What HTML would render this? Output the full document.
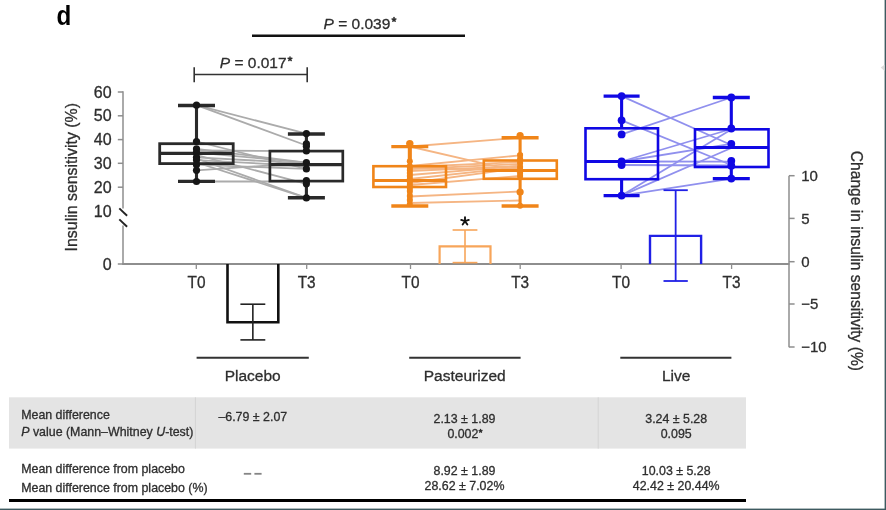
<!DOCTYPE html>
<html><head><meta charset="utf-8"><style>
html,body{margin:0;padding:0;background:#fff;width:886px;height:510px;overflow:hidden}
svg{display:block;filter:blur(0.45px)}
text{font-family:"Liberation Sans", sans-serif}
</style></head><body>
<svg width="886" height="510" viewBox="0 0 886 510">
<rect x="0" y="0" width="886" height="510" fill="#fff"/>
<rect x="884.6" y="0" width="1.4" height="510" fill="#3e5a60" stroke="none" stroke-width="0"/>
<rect x="0" y="508.6" width="886" height="1.4" fill="#3e5a60" stroke="none" stroke-width="0"/>
<polygon points="880.7,67.5 884.5,64.8 884.5,70.9" fill="#dcdcdc"/>
<text transform="translate(56.4,25) scale(0.88,1)" font-size="27.5" font-weight="bold" fill="#000">d</text>
<line x1="252" y1="35.8" x2="465" y2="35.8" stroke="#111" stroke-width="2.6" />
<text transform="translate(323.5,28.6)" font-size="15.5" fill="#2e2e2e" stroke="#2e2e2e" stroke-width="0.3"><tspan font-style="italic">P</tspan> = 0.039</text>
<line x1="394" y1="19.6" x2="394.00" y2="17.60" stroke="#2e2e2e" stroke-width="1.5" stroke-linecap="round"/>
<line x1="394" y1="19.6" x2="395.90" y2="18.98" stroke="#2e2e2e" stroke-width="1.5" stroke-linecap="round"/>
<line x1="394" y1="19.6" x2="395.18" y2="21.22" stroke="#2e2e2e" stroke-width="1.5" stroke-linecap="round"/>
<line x1="394" y1="19.6" x2="392.82" y2="21.22" stroke="#2e2e2e" stroke-width="1.5" stroke-linecap="round"/>
<line x1="394" y1="19.6" x2="392.10" y2="18.98" stroke="#2e2e2e" stroke-width="1.5" stroke-linecap="round"/>
<line x1="194.2" y1="74.5" x2="307.2" y2="74.5" stroke="#333" stroke-width="1.6" />
<line x1="194.2" y1="67.2" x2="194.2" y2="82.2" stroke="#333" stroke-width="1.6" />
<line x1="307.2" y1="67.2" x2="307.2" y2="82.2" stroke="#333" stroke-width="1.6" />
<text transform="translate(219.8,67.9)" font-size="15.5" fill="#2e2e2e" stroke="#2e2e2e" stroke-width="0.3"><tspan font-style="italic">P</tspan> = 0.017</text>
<line x1="290" y1="58.9" x2="290.00" y2="56.90" stroke="#2e2e2e" stroke-width="1.5" stroke-linecap="round"/>
<line x1="290" y1="58.9" x2="291.90" y2="58.28" stroke="#2e2e2e" stroke-width="1.5" stroke-linecap="round"/>
<line x1="290" y1="58.9" x2="291.18" y2="60.52" stroke="#2e2e2e" stroke-width="1.5" stroke-linecap="round"/>
<line x1="290" y1="58.9" x2="288.82" y2="60.52" stroke="#2e2e2e" stroke-width="1.5" stroke-linecap="round"/>
<line x1="290" y1="58.9" x2="288.10" y2="58.28" stroke="#2e2e2e" stroke-width="1.5" stroke-linecap="round"/>
<line x1="123" y1="91.3" x2="123" y2="208.5" stroke="#8e8e8e" stroke-width="1.5" />
<line x1="123" y1="225.5" x2="123" y2="264.8" stroke="#8e8e8e" stroke-width="1.5" />
<line x1="117.8" y1="92" x2="123" y2="92" stroke="#8e8e8e" stroke-width="1.5" />
<text x="111.6" y="97.6" font-size="16" fill="#2e2e2e" stroke="#2e2e2e" stroke-width="0.3" text-anchor="end" >60</text>
<line x1="117.8" y1="115.8" x2="123" y2="115.8" stroke="#8e8e8e" stroke-width="1.5" />
<text x="111.6" y="121.39999999999999" font-size="16" fill="#2e2e2e" stroke="#2e2e2e" stroke-width="0.3" text-anchor="end" >50</text>
<line x1="117.8" y1="139.6" x2="123" y2="139.6" stroke="#8e8e8e" stroke-width="1.5" />
<text x="111.6" y="145.2" font-size="16" fill="#2e2e2e" stroke="#2e2e2e" stroke-width="0.3" text-anchor="end" >40</text>
<line x1="117.8" y1="163.3" x2="123" y2="163.3" stroke="#8e8e8e" stroke-width="1.5" />
<text x="111.6" y="168.9" font-size="16" fill="#2e2e2e" stroke="#2e2e2e" stroke-width="0.3" text-anchor="end" >30</text>
<line x1="117.8" y1="187.2" x2="123" y2="187.2" stroke="#8e8e8e" stroke-width="1.5" />
<text x="111.6" y="192.79999999999998" font-size="16" fill="#2e2e2e" stroke="#2e2e2e" stroke-width="0.3" text-anchor="end" >20</text>
<text x="111.6" y="217.2" font-size="16" fill="#2e2e2e" stroke="#2e2e2e" stroke-width="0.3" text-anchor="end" >10</text>
<text x="111.6" y="269.6" font-size="16" fill="#2e2e2e" stroke="#2e2e2e" stroke-width="0.3" text-anchor="end" >0</text>
<line x1="117.8" y1="264" x2="123" y2="264" stroke="#8e8e8e" stroke-width="1.5" />
<line x1="119.3" y1="208.4" x2="127.1" y2="215.8" stroke="#222" stroke-width="1.9" />
<line x1="119.3" y1="219.4" x2="127.1" y2="226.8" stroke="#222" stroke-width="1.9" />
<text transform="translate(77.4,251.4) rotate(-90)" font-size="15.9" fill="#2e2e2e" stroke="#2e2e2e" stroke-width="0.3">Insulin sensitivity (%)</text>
<line x1="122.3" y1="264" x2="789.5" y2="264" stroke="#8e8e8e" stroke-width="1.8" />
<line x1="196.3" y1="264" x2="196.3" y2="269" stroke="#8e8e8e" stroke-width="1.3" />
<line x1="306.7" y1="264" x2="306.7" y2="269" stroke="#8e8e8e" stroke-width="1.3" />
<line x1="410.5" y1="264" x2="410.5" y2="269" stroke="#8e8e8e" stroke-width="1.3" />
<line x1="520.2" y1="264" x2="520.2" y2="269" stroke="#8e8e8e" stroke-width="1.3" />
<line x1="621.1" y1="264" x2="621.1" y2="269" stroke="#8e8e8e" stroke-width="1.3" />
<line x1="731.6" y1="264" x2="731.6" y2="269" stroke="#8e8e8e" stroke-width="1.3" />
<text transform="translate(196.6,287.5) scale(0.95,1)" font-size="16.2" fill="#2e2e2e" stroke="#2e2e2e" stroke-width="0.3" text-anchor="middle">T0</text>
<text transform="translate(306.7,287.5) scale(0.95,1)" font-size="16.2" fill="#2e2e2e" stroke="#2e2e2e" stroke-width="0.3" text-anchor="middle">T3</text>
<text transform="translate(410.5,287.5) scale(0.95,1)" font-size="16.2" fill="#2e2e2e" stroke="#2e2e2e" stroke-width="0.3" text-anchor="middle">T0</text>
<text transform="translate(520.2,287.5) scale(0.95,1)" font-size="16.2" fill="#2e2e2e" stroke="#2e2e2e" stroke-width="0.3" text-anchor="middle">T3</text>
<text transform="translate(621.1,287.5) scale(0.95,1)" font-size="16.2" fill="#2e2e2e" stroke="#2e2e2e" stroke-width="0.3" text-anchor="middle">T0</text>
<text transform="translate(731.6,287.5) scale(0.95,1)" font-size="16.2" fill="#2e2e2e" stroke="#2e2e2e" stroke-width="0.3" text-anchor="middle">T3</text>
<line x1="789" y1="175.7" x2="789" y2="347.3" stroke="#8e8e8e" stroke-width="1.5" />
<line x1="789" y1="175.7" x2="794.6" y2="175.7" stroke="#8e8e8e" stroke-width="1.5" />
<text x="801.2" y="181.0" font-size="15" fill="#2e2e2e" stroke="#2e2e2e" stroke-width="0.3" text-anchor="start" >10</text>
<line x1="789" y1="218.4" x2="794.6" y2="218.4" stroke="#8e8e8e" stroke-width="1.5" />
<text x="801.2" y="223.70000000000002" font-size="15" fill="#2e2e2e" stroke="#2e2e2e" stroke-width="0.3" text-anchor="start" >5</text>
<line x1="789" y1="261.7" x2="794.6" y2="261.7" stroke="#8e8e8e" stroke-width="1.5" />
<text x="801.2" y="267.0" font-size="15" fill="#2e2e2e" stroke="#2e2e2e" stroke-width="0.3" text-anchor="start" >0</text>
<line x1="789" y1="304" x2="794.6" y2="304" stroke="#8e8e8e" stroke-width="1.5" />
<text x="801.2" y="309.3" font-size="15" fill="#2e2e2e" stroke="#2e2e2e" stroke-width="0.3" text-anchor="start" >−5</text>
<line x1="789" y1="347" x2="794.6" y2="347" stroke="#8e8e8e" stroke-width="1.5" />
<text x="801.2" y="352.3" font-size="15" fill="#2e2e2e" stroke="#2e2e2e" stroke-width="0.3" text-anchor="start" >−10</text>
<text transform="translate(850.6,150.8) rotate(90)" font-size="15.6" fill="#2e2e2e" stroke="#2e2e2e" stroke-width="0.3">Change in insulin sensitivity (%)</text>
<line x1="196.6" y1="357.7" x2="308.8" y2="357.7" stroke="#333" stroke-width="2" />
<text x="252.7" y="380.8" font-size="15.5" fill="#2e2e2e" stroke="#2e2e2e" stroke-width="0.3" text-anchor="middle" >Placebo</text>
<line x1="409.2" y1="357.7" x2="520.6" y2="357.7" stroke="#333" stroke-width="2" />
<text x="464.7" y="380.8" font-size="15.5" fill="#2e2e2e" stroke="#2e2e2e" stroke-width="0.3" text-anchor="middle" >Pasteurized</text>
<line x1="620.3" y1="357.7" x2="731.4" y2="357.7" stroke="#333" stroke-width="2" />
<text x="676.2" y="380.8" font-size="15.5" fill="#2e2e2e" stroke="#2e2e2e" stroke-width="0.3" text-anchor="middle" >Live</text>
<line x1="196.5" y1="105.2" x2="306.4" y2="133.6" stroke="#ababab" stroke-width="1.8" />
<line x1="196.5" y1="105.2" x2="306.4" y2="145.5" stroke="#ababab" stroke-width="1.8" />
<line x1="196.5" y1="150.5" x2="306.4" y2="151.2" stroke="#ababab" stroke-width="1.8" />
<line x1="196.5" y1="148.9" x2="306.4" y2="162.6" stroke="#ababab" stroke-width="1.8" />
<line x1="196.5" y1="152.6" x2="306.4" y2="162.6" stroke="#ababab" stroke-width="1.8" />
<line x1="196.5" y1="157.3" x2="306.4" y2="163.5" stroke="#ababab" stroke-width="1.8" />
<line x1="196.5" y1="160.1" x2="306.4" y2="166" stroke="#ababab" stroke-width="1.8" />
<line x1="196.5" y1="164.7" x2="306.4" y2="168.9" stroke="#ababab" stroke-width="1.8" />
<line x1="196.5" y1="170.3" x2="306.4" y2="163" stroke="#ababab" stroke-width="1.8" />
<line x1="196.5" y1="158.5" x2="306.4" y2="197.9" stroke="#ababab" stroke-width="1.8" />
<line x1="196.5" y1="162.5" x2="306.4" y2="197.9" stroke="#ababab" stroke-width="1.8" />
<line x1="196.5" y1="155" x2="306.4" y2="183.8" stroke="#ababab" stroke-width="1.8" />
<line x1="196.5" y1="181.5" x2="306.4" y2="181.5" stroke="#ababab" stroke-width="1.8" />
<line x1="196.5" y1="141.5" x2="306.4" y2="168.9" stroke="#ababab" stroke-width="1.8" />
<line x1="196.5" y1="105.5" x2="196.5" y2="143.7" stroke="#2a2a2a" stroke-width="3.1" />
<line x1="196.5" y1="163.6" x2="196.5" y2="181.4" stroke="#2a2a2a" stroke-width="3.1" />
<line x1="178.0" y1="105.5" x2="215.0" y2="105.5" stroke="#2a2a2a" stroke-width="3.4" />
<line x1="178.0" y1="181.4" x2="215.0" y2="181.4" stroke="#2a2a2a" stroke-width="3.4" />
<rect x="159.7" y="143.7" width="73.5" height="19.900000000000006" fill="none" stroke="#2a2a2a" stroke-width="2.8"/>
<line x1="159.7" y1="153.4" x2="233.2" y2="153.4" stroke="#2a2a2a" stroke-width="3.1999999999999997" />
<circle cx="196.5" cy="105.2" r="3.6" fill="#161616"/>
<circle cx="196.5" cy="141.5" r="3.6" fill="#161616"/>
<circle cx="196.5" cy="148.9" r="3.6" fill="#161616"/>
<circle cx="196.5" cy="152.6" r="3.6" fill="#161616"/>
<circle cx="196.5" cy="157.3" r="3.6" fill="#161616"/>
<circle cx="196.5" cy="160.1" r="3.6" fill="#161616"/>
<circle cx="196.5" cy="164.7" r="3.6" fill="#161616"/>
<circle cx="196.5" cy="170.3" r="3.6" fill="#161616"/>
<circle cx="196.5" cy="181.5" r="3.6" fill="#161616"/>
<line x1="306.4" y1="134" x2="306.4" y2="151.1" stroke="#2a2a2a" stroke-width="3.1" />
<line x1="306.4" y1="181.1" x2="306.4" y2="197.7" stroke="#2a2a2a" stroke-width="3.1" />
<line x1="287.9" y1="134" x2="324.9" y2="134" stroke="#2a2a2a" stroke-width="3.4" />
<line x1="287.9" y1="197.7" x2="324.9" y2="197.7" stroke="#2a2a2a" stroke-width="3.4" />
<rect x="269.9" y="151.1" width="72.90000000000003" height="30.0" fill="none" stroke="#2a2a2a" stroke-width="2.7"/>
<line x1="269.9" y1="164.6" x2="342.8" y2="164.6" stroke="#2a2a2a" stroke-width="3.1" />
<circle cx="306.4" cy="133.6" r="3.6" fill="#161616"/>
<circle cx="306.4" cy="143.8" r="3.6" fill="#161616"/>
<circle cx="306.4" cy="146.2" r="3.6" fill="#161616"/>
<circle cx="306.4" cy="150.9" r="3.6" fill="#161616"/>
<circle cx="306.4" cy="162.6" r="3.6" fill="#161616"/>
<circle cx="306.4" cy="168.9" r="3.6" fill="#161616"/>
<circle cx="306.4" cy="180.7" r="3.6" fill="#161616"/>
<circle cx="306.4" cy="183.8" r="3.6" fill="#161616"/>
<circle cx="306.4" cy="197.9" r="3.6" fill="#161616"/>
<line x1="409.8" y1="146.5" x2="520.1" y2="137.7" stroke="#f5b583" stroke-width="1.8" />
<line x1="409.8" y1="146.5" x2="520.1" y2="172" stroke="#f5b583" stroke-width="1.8" />
<line x1="409.8" y1="167" x2="520.1" y2="162" stroke="#f5b583" stroke-width="1.8" />
<line x1="409.8" y1="169" x2="520.1" y2="164" stroke="#f5b583" stroke-width="1.8" />
<line x1="409.8" y1="171" x2="520.1" y2="166" stroke="#f5b583" stroke-width="1.8" />
<line x1="409.8" y1="175" x2="520.1" y2="166" stroke="#f5b583" stroke-width="1.8" />
<line x1="409.8" y1="179" x2="520.1" y2="167" stroke="#f5b583" stroke-width="1.8" />
<line x1="409.8" y1="183" x2="520.1" y2="168" stroke="#f5b583" stroke-width="1.8" />
<line x1="409.8" y1="185" x2="520.1" y2="176" stroke="#f5b583" stroke-width="1.8" />
<line x1="409.8" y1="196.5" x2="520.1" y2="191.5" stroke="#f5b583" stroke-width="1.8" />
<line x1="409.8" y1="203" x2="520.1" y2="200.5" stroke="#f5b583" stroke-width="1.8" />
<line x1="409.8" y1="168" x2="520.1" y2="170" stroke="#f5b583" stroke-width="1.8" />
<line x1="409.8" y1="166" x2="520.1" y2="155.4" stroke="#f5b583" stroke-width="1.8" />
<line x1="409.8" y1="146.6" x2="409.8" y2="166.2" stroke="#f08519" stroke-width="3.1" />
<line x1="409.8" y1="187" x2="409.8" y2="206" stroke="#f08519" stroke-width="3.1" />
<line x1="391.3" y1="146.6" x2="428.3" y2="146.6" stroke="#f08519" stroke-width="3.4" />
<line x1="391.3" y1="206" x2="428.3" y2="206" stroke="#f08519" stroke-width="3.4" />
<rect x="373.4" y="166.2" width="72.60000000000002" height="20.80000000000001" fill="none" stroke="#f08519" stroke-width="2.6"/>
<line x1="373.4" y1="180.4" x2="446" y2="180.4" stroke="#f08519" stroke-width="3.0" />
<circle cx="409.8" cy="143.6" r="3.7" fill="#f08519"/>
<circle cx="409.8" cy="161.3" r="3.0" fill="#f08519"/>
<circle cx="409.8" cy="167" r="3.0" fill="#f08519"/>
<circle cx="409.8" cy="170" r="3.0" fill="#f08519"/>
<circle cx="409.8" cy="173" r="3.0" fill="#f08519"/>
<circle cx="409.8" cy="176" r="3.0" fill="#f08519"/>
<circle cx="409.8" cy="179" r="3.0" fill="#f08519"/>
<circle cx="409.8" cy="182" r="3.0" fill="#f08519"/>
<circle cx="409.8" cy="185" r="3.0" fill="#f08519"/>
<circle cx="409.8" cy="188" r="3.0" fill="#f08519"/>
<circle cx="409.8" cy="191" r="3.0" fill="#f08519"/>
<circle cx="409.8" cy="196" r="3.0" fill="#f08519"/>
<circle cx="409.8" cy="200" r="3.0" fill="#f08519"/>
<circle cx="409.8" cy="204" r="3.0" fill="#f08519"/>
<line x1="409.8" y1="146" x2="409.8" y2="164" stroke="#f08519" stroke-width="4.0" />
<line x1="409.8" y1="164" x2="409.8" y2="202" stroke="#f08519" stroke-width="5.2" />
<line x1="520.1" y1="137.7" x2="520.1" y2="160.5" stroke="#f08519" stroke-width="3.1" />
<line x1="520.1" y1="178.8" x2="520.1" y2="206" stroke="#f08519" stroke-width="3.1" />
<line x1="501.6" y1="137.7" x2="538.6" y2="137.7" stroke="#f08519" stroke-width="3.4" />
<line x1="501.6" y1="206" x2="538.6" y2="206" stroke="#f08519" stroke-width="3.4" />
<rect x="483.8" y="160.5" width="72.99999999999994" height="18.30000000000001" fill="none" stroke="#f08519" stroke-width="2.6"/>
<line x1="483.8" y1="170.5" x2="556.8" y2="170.5" stroke="#f08519" stroke-width="3.0" />
<circle cx="520.1" cy="135.6" r="3.6" fill="#f08519"/>
<circle cx="520.1" cy="192" r="3.6" fill="#f08519"/>
<circle cx="520.1" cy="155" r="3.0" fill="#f08519"/>
<circle cx="520.1" cy="159" r="3.0" fill="#f08519"/>
<circle cx="520.1" cy="163" r="3.0" fill="#f08519"/>
<circle cx="520.1" cy="167" r="3.0" fill="#f08519"/>
<circle cx="520.1" cy="170" r="3.0" fill="#f08519"/>
<circle cx="520.1" cy="173" r="3.0" fill="#f08519"/>
<circle cx="520.1" cy="176" r="3.0" fill="#f08519"/>
<circle cx="520.1" cy="192" r="3.0" fill="#f08519"/>
<circle cx="520.1" cy="205.7" r="3.0" fill="#f08519"/>
<line x1="520.1" y1="153" x2="520.1" y2="178" stroke="#f08519" stroke-width="5.0" />
<line x1="621.6" y1="96.1" x2="731.3" y2="145" stroke="#9090ee" stroke-width="1.8" />
<line x1="621.6" y1="120.3" x2="731.3" y2="165" stroke="#9090ee" stroke-width="1.8" />
<line x1="621.6" y1="134.4" x2="731.3" y2="97.5" stroke="#9090ee" stroke-width="1.8" />
<line x1="621.6" y1="161.5" x2="731.3" y2="129" stroke="#9090ee" stroke-width="1.8" />
<line x1="621.6" y1="161.5" x2="731.3" y2="143.8" stroke="#9090ee" stroke-width="1.8" />
<line x1="621.6" y1="161.5" x2="731.3" y2="161.6" stroke="#9090ee" stroke-width="1.8" />
<line x1="621.6" y1="165" x2="731.3" y2="165.5" stroke="#9090ee" stroke-width="1.8" />
<line x1="621.6" y1="195.6" x2="731.3" y2="129.5" stroke="#9090ee" stroke-width="1.8" />
<line x1="621.6" y1="195.6" x2="731.3" y2="148" stroke="#9090ee" stroke-width="1.8" />
<line x1="621.6" y1="195.6" x2="731.3" y2="178.6" stroke="#9090ee" stroke-width="1.8" />
<line x1="621.6" y1="96.1" x2="621.6" y2="128.3" stroke="#1008e4" stroke-width="3.1" />
<line x1="621.6" y1="179.2" x2="621.6" y2="195.6" stroke="#1008e4" stroke-width="3.1" />
<line x1="603.6" y1="96.1" x2="639.6" y2="96.1" stroke="#1008e4" stroke-width="3.4" />
<line x1="603.6" y1="195.6" x2="639.6" y2="195.6" stroke="#1008e4" stroke-width="3.4" />
<rect x="585.5" y="128.3" width="72.5" height="50.89999999999998" fill="none" stroke="#1008e4" stroke-width="2.6"/>
<line x1="585.5" y1="161.5" x2="658" y2="161.5" stroke="#1008e4" stroke-width="3.0" />
<circle cx="621.6" cy="96.1" r="3.9" fill="#1008e4"/>
<circle cx="621.6" cy="120.3" r="3.9" fill="#1008e4"/>
<circle cx="621.6" cy="134.4" r="3.9" fill="#1008e4"/>
<circle cx="621.6" cy="161.5" r="3.9" fill="#1008e4"/>
<circle cx="621.6" cy="165" r="3.9" fill="#1008e4"/>
<circle cx="621.6" cy="195.6" r="3.9" fill="#1008e4"/>
<line x1="731.3" y1="97.5" x2="731.3" y2="129.3" stroke="#1008e4" stroke-width="3.1" />
<line x1="731.3" y1="167" x2="731.3" y2="178.6" stroke="#1008e4" stroke-width="3.1" />
<line x1="712.8" y1="97.5" x2="749.8" y2="97.5" stroke="#1008e4" stroke-width="3.4" />
<line x1="712.8" y1="178.6" x2="749.8" y2="178.6" stroke="#1008e4" stroke-width="3.4" />
<rect x="695" y="129.3" width="73.5" height="37.69999999999999" fill="none" stroke="#1008e4" stroke-width="2.6"/>
<line x1="695" y1="147.4" x2="768.5" y2="147.4" stroke="#1008e4" stroke-width="3.0" />
<circle cx="731.3" cy="97.5" r="3.9" fill="#1008e4"/>
<circle cx="731.3" cy="128.5" r="3.9" fill="#1008e4"/>
<circle cx="731.3" cy="143.8" r="3.9" fill="#1008e4"/>
<circle cx="731.3" cy="160.8" r="3.9" fill="#1008e4"/>
<circle cx="731.3" cy="165.7" r="3.9" fill="#1008e4"/>
<circle cx="731.3" cy="178.6" r="3.9" fill="#1008e4"/>
<polyline points="227.5,264 227.5,322.2 278.3,322.2 278.3,264" fill="none" stroke="#111" stroke-width="2.6"/>
<line x1="252.85000000000002" y1="304.2" x2="252.85000000000002" y2="339.9" stroke="#222" stroke-width="1.6" />
<line x1="240.4" y1="304.2" x2="265.3" y2="304.2" stroke="#222" stroke-width="1.6" />
<line x1="240.4" y1="339.9" x2="265.3" y2="339.9" stroke="#222" stroke-width="1.6" />
<polyline points="439.6,264 439.6,246.3 490.5,246.3 490.5,264" fill="none" stroke="#f7a55a" stroke-width="2.2"/>
<line x1="465.0" y1="230" x2="465.0" y2="262.6" stroke="#f7a55a" stroke-width="1.6" />
<line x1="452.6" y1="230" x2="477.4" y2="230" stroke="#f7a55a" stroke-width="1.6" />
<line x1="452.6" y1="262.6" x2="477.4" y2="262.6" stroke="#f7a55a" stroke-width="1.6" />
<polyline points="650,264 650,235.9 701.1,235.9 701.1,264" fill="none" stroke="#2020e6" stroke-width="2.4"/>
<line x1="675.65" y1="190.2" x2="675.65" y2="281" stroke="#2020e6" stroke-width="1.8" />
<line x1="663.5" y1="190.2" x2="687.8" y2="190.2" stroke="#2020e6" stroke-width="1.8" />
<line x1="663.5" y1="281" x2="687.8" y2="281" stroke="#2020e6" stroke-width="1.8" />
<line x1="465" y1="221.2" x2="465.00" y2="217.20" stroke="#111" stroke-width="1.9" stroke-linecap="round"/>
<line x1="465" y1="221.2" x2="468.80" y2="219.96" stroke="#111" stroke-width="1.9" stroke-linecap="round"/>
<line x1="465" y1="221.2" x2="467.35" y2="224.44" stroke="#111" stroke-width="1.9" stroke-linecap="round"/>
<line x1="465" y1="221.2" x2="462.65" y2="224.44" stroke="#111" stroke-width="1.9" stroke-linecap="round"/>
<line x1="465" y1="221.2" x2="461.20" y2="219.96" stroke="#111" stroke-width="1.9" stroke-linecap="round"/>
<rect x="9" y="397.3" width="737" height="51.3" fill="#e4e4e4" stroke="none" stroke-width="0"/>
<line x1="195.4" y1="397.3" x2="195.4" y2="448.6" stroke="#d4d4d4" stroke-width="1" />
<line x1="598.2" y1="397.3" x2="598.2" y2="448.6" stroke="#d4d4d4" stroke-width="1" />
<text x="21.2" y="418.8" font-size="12.4" fill="#2e2e2e" stroke="#2e2e2e" stroke-width="0.3" text-anchor="start" >Mean difference</text>
<text x="21.2" y="435.6" font-size="12.4" fill="#2e2e2e" stroke="#2e2e2e" stroke-width="0.3" text-anchor="start" ><tspan font-style="italic">P</tspan> value (Mann–Whitney <tspan font-style="italic">U</tspan>-test)</text>
<text x="21.2" y="473.2" font-size="12.4" fill="#2e2e2e" stroke="#2e2e2e" stroke-width="0.3" text-anchor="start" >Mean difference from placebo</text>
<text x="21.2" y="491.8" font-size="12.4" fill="#2e2e2e" stroke="#2e2e2e" stroke-width="0.3" text-anchor="start" >Mean difference from placebo (%)</text>
<text x="252.8" y="421.1" font-size="12.4" fill="#2e2e2e" stroke="#2e2e2e" stroke-width="0.3" text-anchor="middle" >–6.79 ± 2.07</text>
<line x1="243.8" y1="473.8" x2="251.2" y2="473.8" stroke="#858585" stroke-width="1.8" />
<line x1="254.4" y1="473.8" x2="261.6" y2="473.8" stroke="#858585" stroke-width="1.8" />
<text x="464.5" y="423.3" font-size="12.4" fill="#2e2e2e" stroke="#2e2e2e" stroke-width="0.3" text-anchor="middle" >2.13 ± 1.89</text>
<text x="462.9" y="438" font-size="12.4" fill="#2e2e2e" stroke="#2e2e2e" stroke-width="0.3" text-anchor="middle" >0.002</text>
<line x1="480.6" y1="431.0" x2="480.60" y2="429.50" stroke="#2e2e2e" stroke-width="1.3" stroke-linecap="round"/>
<line x1="480.6" y1="431.0" x2="482.03" y2="430.54" stroke="#2e2e2e" stroke-width="1.3" stroke-linecap="round"/>
<line x1="480.6" y1="431.0" x2="481.48" y2="432.21" stroke="#2e2e2e" stroke-width="1.3" stroke-linecap="round"/>
<line x1="480.6" y1="431.0" x2="479.72" y2="432.21" stroke="#2e2e2e" stroke-width="1.3" stroke-linecap="round"/>
<line x1="480.6" y1="431.0" x2="479.17" y2="430.54" stroke="#2e2e2e" stroke-width="1.3" stroke-linecap="round"/>
<text x="464.5" y="474.8" font-size="12.4" fill="#2e2e2e" stroke="#2e2e2e" stroke-width="0.3" text-anchor="middle" >8.92 ± 1.89</text>
<text x="464.5" y="489.6" font-size="12.4" fill="#2e2e2e" stroke="#2e2e2e" stroke-width="0.3" text-anchor="middle" >28.62 ± 7.02%</text>
<text x="676.2" y="423.3" font-size="12.4" fill="#2e2e2e" stroke="#2e2e2e" stroke-width="0.3" text-anchor="middle" >3.24 ± 5.28</text>
<text x="676.2" y="437.8" font-size="12.4" fill="#2e2e2e" stroke="#2e2e2e" stroke-width="0.3" text-anchor="middle" >0.095</text>
<text x="676.2" y="474.6" font-size="12.4" fill="#2e2e2e" stroke="#2e2e2e" stroke-width="0.3" text-anchor="middle" >10.03 ± 5.28</text>
<text x="676.2" y="489.5" font-size="12.4" fill="#2e2e2e" stroke="#2e2e2e" stroke-width="0.3" text-anchor="middle" >42.42 ± 20.44%</text>
<line x1="9" y1="500.6" x2="746" y2="500.6" stroke="#000" stroke-width="3" />
</svg>
</body></html>
